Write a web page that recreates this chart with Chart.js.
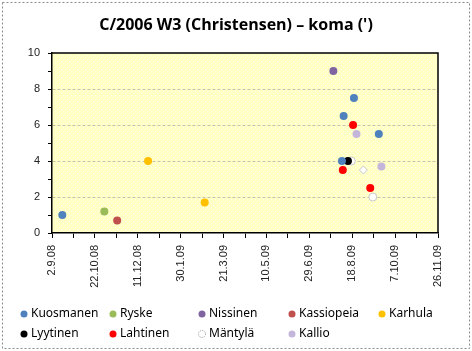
<!DOCTYPE html>
<html>
<head>
<meta charset="utf-8">
<script src="https://cdn.jsdelivr.net/npm/chart.js@4.4.0/dist/chart.umd.min.js"></script>
<style>
  html, body { margin: 0; padding: 0; background: #fff; }
  #wrap { width: 472px; height: 351px; position: relative; }
</style>
</head>
<body>
<div id="wrap"><canvas id="komaChart" width="472" height="351"></canvas></div>
<script>
// observation dates (d.m.yy) and coma diameter (arcmin) per observer
const observers = ["Kuosmanen", "Ryske", "Nissinen", "Kassiopeia", "Karhula",
  "Lyytinen", "Lahtinen", "Mäntylä", "Kallio"];

const kuosmanenDates = ["14.9.08", "20.8.09", "8.8.09", "18.9.09", "6.8.09"];
const kuosmanenComa = [1.0, 7.5, 6.5, 5.5, 4.0];
const ryskeDates = ["2.11.08"];
const ryskeComa = [1.2];
const nissinenDates = ["27.7.09"];
const nissinenComa = [9.0];
const kassiopeiaDates = ["17.11.08"];
const kassiopeiaComa = [0.7];
const karhulaDates = ["23.12.08", "27.2.09"];
const karhulaComa = [4.0, 1.7];
const lyytinenDates = ["13.8.09"];
const lyytinenComa = [4.0];
const lahtinenDates = ["19.8.09", "7.8.09", "8.9.09"];
const lahtinenComa = [6.0, 3.5, 2.5];
const mantylaDates = ["17.8.09", "31.8.09", "11.9.09"];
const mantylaComa = [4.0, 3.5, 2.0];
const kallioDates = ["23.8.09", "21.9.09"];
const kallioComa = [5.5, 3.7];

const xTickLabels = ["2.9.08", "22.10.08", "11.12.08", "30.1.09", "21.3.09",
  "10.5.09", "29.6.09", "18.8.09", "7.10.09", "26.11.09"];
const yTicks = [0, 2, 4, 6, 8, 10];

const chartTitle = "C/2006 W3 (Christensen) – koma (')";

const toDay = (s) => {
  const [d, m, y] = s.split(".").map(Number);
  return Date.UTC(2000 + y, m - 1, d) / 86400000;
};
const pts = (dates, vals) => dates.map((d, i) => ({ x: toDay(d), y: vals[i] }));

const colors = ["#4F81BD", "#9BBB59", "#8064A2", "#C0504D", "#FFC000",
  "#000000", "#FF0000", "#FFFFFF", "#C3B6DA"];

const seriesData = [
  pts(kuosmanenDates, kuosmanenComa),
  pts(ryskeDates, ryskeComa),
  pts(nissinenDates, nissinenComa),
  pts(kassiopeiaDates, kassiopeiaComa),
  pts(karhulaDates, karhulaComa),
  pts(lyytinenDates, lyytinenComa),
  pts(lahtinenDates, lahtinenComa),
  pts(mantylaDates, mantylaComa),
  pts(kallioDates, kallioComa),
];

const majorDays = xTickLabels.map(toDay);
const xTickDays = [];
majorDays.forEach((d, i) => {
  xTickDays.push(d);
  if (i < majorDays.length - 1) xTickDays.push((d + majorDays[i + 1]) / 2);
});

const ctx = document.getElementById("komaChart").getContext("2d");

// light yellow plot fill with faint dots
const pat = document.createElement("canvas");
pat.width = 4; pat.height = 4;
const pctx = pat.getContext("2d");
pctx.fillStyle = "#FFFFC4";
pctx.fillRect(0, 0, 4, 4);
pctx.fillStyle = "#FFFFEE";
pctx.fillRect(1, 1, 1, 1);
pctx.fillRect(3, 3, 1, 1);
const plotFill = ctx.createPattern(pat, "repeat");

const frame = {
  id: "frame",
  beforeDraw(chart) {
    const c = chart.ctx, a = chart.chartArea;
    c.save();
    c.fillStyle = "#fff";
    c.fillRect(0, 0, chart.width, chart.height);
    c.setLineDash([2, 2]);
    c.strokeStyle = "#8a8a8a";
    c.lineWidth = 1;
    c.strokeRect(2.5, 2.5, chart.width - 5, chart.height - 5);
    c.setLineDash([]);
    c.fillStyle = plotFill;
    c.fillRect(a.left, a.top, a.right - a.left, a.bottom - a.top);
    c.restore();
  },
  beforeDatasetsDraw(chart) {
    const c = chart.ctx, a = chart.chartArea;
    c.save();
    c.strokeStyle = "#000";
    c.lineWidth = 1.5;
    c.beginPath();
    c.moveTo(a.left, a.top);
    c.lineTo(a.right, a.top);
    c.lineTo(a.right, a.bottom);
    c.stroke();
    c.restore();
  },
  afterDraw(chart) {
    const c = chart.ctx;
    c.save();
    // title, centred on the whole picture
    c.font = "bold 16px 'Open Sans'";
    c.fillStyle = "#000";
    c.textAlign = "center";
    c.textBaseline = "middle";
    c.fillText(chartTitle, chart.width / 2, 25);

    // legend, two rows in fixed columns
    const colX = [24, 113, 202, 292, 382];
    const rowY = [314, 334];
    c.font = "12px 'Noto Sans'";
    c.textAlign = "left";
    chart.data.datasets.forEach((ds, i) => {
      const x = colX[i % 5], y = rowY[Math.floor(i / 5)];
      c.beginPath();
      c.arc(x, y, 3.5, 0, Math.PI * 2);
      c.fillStyle = ds.backgroundColor;
      c.fill();
      if (ds.label === "Mäntylä") {
        c.setLineDash([1, 1]);
        c.strokeStyle = "#999";
        c.lineWidth = 1;
        c.stroke();
        c.setLineDash([]);
      }
      c.fillStyle = "#000";
      c.fillText(ds.label, x + 7, y);
    });
    c.restore();
  },
};

new Chart(ctx, {
  type: "scatter",
  data: {
    datasets: observers.map((name, i) => ({
      label: name,
      data: seriesData[i],
      backgroundColor: colors[i],
      borderColor: name === "Mäntylä" ? "#c8c8c8" : colors[i],
      borderWidth: name === "Mäntylä" ? 1 : 0,
      pointRadius: 4,
      pointHoverRadius: 4,
      pointStyle: name === "Mäntylä" ? ["circle", "rectRot", "circle"] : "circle",
    })),
  },
  plugins: [frame],
  options: {
    responsive: false,
    animation: false,
    layout: { padding: { left: 0, right: 34, top: 53, bottom: 56 } },
    plugins: {
      legend: { display: false },
      tooltip: { enabled: false },
      title: { display: false },
    },
    scales: {
      x: {
        type: "linear",
        min: majorDays[0],
        max: majorDays[majorDays.length - 1],
        afterBuildTicks: (scale) => {
          scale.ticks = xTickDays.map((v) => ({ value: v }));
        },
        afterFit: (scale) => { scale.height = 62; },
        ticks: {
          autoSkip: false,
          minRotation: 90,
          maxRotation: 90,
          padding: 7,
          color: "#222",
          font: { family: "'Liberation Sans'", size: 11 },
          callback: (v) => {
            const i = majorDays.indexOf(v);
            return i >= 0 ? xTickLabels[i] : "";
          },
        },
        grid: {
          drawOnChartArea: false,
          tickColor: "#000",
          tickLength: 5,
        },
        border: { color: "#000", width: 1.5 },
      },
      y: {
        min: yTicks[0],
        max: yTicks[yTicks.length - 1],
        afterFit: (scale) => { scale.width = 52; },
        ticks: {
          stepSize: 1,
          padding: 8,
          color: "#222",
          font: { family: "'Liberation Sans'", size: 11 },
          callback: (v) => (yTicks.includes(v) ? v : ""),
        },
        grid: {
          color: (c) => (c.tick && c.tick.value > 0 && c.tick.value < 10 && c.tick.value % 2 === 0 ? "#c4c4b0" : "transparent"),
          tickColor: "#000",
          tickLength: 4,
        },
        border: { color: "#000", width: 1.5, dash: [3, 2] },
      },
    },
  },
});
</script>
</body>
</html>
